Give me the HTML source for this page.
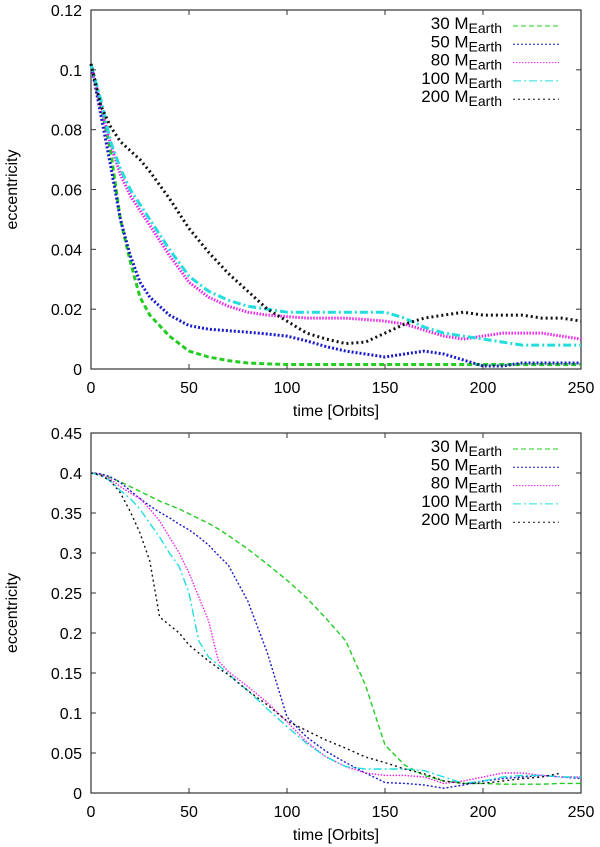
<!DOCTYPE html>
<html><head><meta charset="utf-8"><style>
body{margin:0;background:#fff;}
svg{display:block;font-family:"Liberation Sans",sans-serif;}
</style></head><body>
<svg id="c" width="600" height="847"></svg>
<script>
const NS="http://www.w3.org/2000/svg";
const svg=document.getElementById('c');
const seriesNames=["30","50","80","100","200"];
const colors=["#22cc22","#1a1acc","#ee22ee","#22dddd","#111111"];
const dashes=["5,3","2,2","1.5,1.5","8,3,2,3","2,3"];
const xTicks=[0,50,100,150,200,250];
// top chart data
const tTop=[0,5,10,15,20,25,30,40,50,60,70,80,90,100,110,120,130,140,150,160,170,180,190,200,210,220,230,240,250];
const top30=[.102,.088,.073,.050,.036,.024,.018,.011,.006,.004,.0028,.002,.0017,.0015,.0015,.0015,.0015,.0015,.0015,.0015,.0015,.0015,.0015,.0015,.0015,.0015,.0015,.0015,.0015];
const top50=[.102,.085,.068,.050,.038,.029,.024,.018,.0145,.0133,.0128,.0123,.0117,.011,.0094,.0075,.006,.005,.004,.005,.006,.005,.003,.001,.001,.002,.002,.002,.002];
const top80=[.102,.088,.075,.065,.058,.053,.048,.038,.029,.024,.021,.019,.018,.0175,.017,.017,.017,.0165,.016,.015,.013,.011,.010,.011,.012,.012,.012,.011,.010];
const top100=[.102,.090,.076,.067,.060,.055,.050,.040,.031,.026,.023,.021,.020,.019,.019,.019,.019,.019,.019,.017,.014,.012,.011,.010,.009,.008,.008,.008,.008];
const top200=[.102,.088,.081,.076,.073,.070,.066,.057,.047,.039,.032,.026,.020,.016,.012,.010,.0085,.009,.012,.015,.017,.018,.019,.018,.018,.018,.017,.017,.016];
const yTicksTop=[0,0.02,0.04,0.06,0.08,0.1,0.12];
const yLabelsTop=["0","0.02","0.04","0.06","0.08","0.1","0.12"];
// bottom chart data
const tBot=[0,5,10,15,20,25,30,35,40,45,50,55,60,65,70,80,90,100,110,120,130,140,150,160,170,180,190,200,210,220,230,240,250];
const bot30=[.40,.398,.394,.389,.383,.377,.371,.365,.360,.355,.349,.343,.337,.330,.322,.305,.286,.266,.244,.218,.190,.135,.06,.035,.022,.015,.012,.012,.011,.011,.011,.012,.012];
const bot50=[.40,.399,.395,.388,.378,.368,.359,.351,.344,.336,.329,.320,.310,.297,.285,.24,.175,.095,.07,.052,.038,.025,.013,.012,.010,.006,.01,.015,.018,.02,.022,.02,.018];
const bot80=[.40,.398,.392,.383,.375,.368,.355,.340,.320,.300,.275,.245,.215,.165,.152,.133,.113,.089,.064,.045,.033,.025,.022,.022,.02,.012,.015,.02,.025,.025,.022,.02,.02];
const bot100=[.40,.397,.39,.378,.368,.355,.337,.32,.30,.283,.25,.19,.17,.16,.149,.128,.105,.083,.062,.045,.033,.03,.03,.03,.028,.02,.012,.015,.02,.022,.022,.02,.02];
const bot200=[.40,.397,.39,.375,.352,.325,.29,.22,.21,.20,.185,.175,.165,.156,.148,.128,.11,.09,.078,.066,.056,.045,.038,.03,.024,.015,.012,.012,.015,.018,.02,.025,null];
const yTicksBot=[0,0.05,0.1,0.15,0.2,0.25,0.3,0.35,0.4,0.45];
const yLabelsBot=["0","0.05","0.1","0.15","0.2","0.25","0.3","0.35","0.4","0.45"];

function el(tag,attrs,parent){const e=document.createElementNS(NS,tag);for(const k in attrs)e.setAttribute(k,attrs[k]);(parent||svg).appendChild(e);return e;}

function chart(id,y0,y1,yMax,yTicks,yLabels,t,series,sw){
  const g=el('g',{});
  
  
  const x0=91,x1=581;
  const X=v=>x0+v/250*(x1-x0);
  const Y=v=>y1-v/yMax*(y1-y0);
  const fr=el('rect',{x:x0,y:y0,width:x1-x0,height:y1-y0,fill:'none',stroke:'#333','stroke-width':1.2},g);
  
  xTicks.forEach(v=>{
    el('line',{x1:X(v),x2:X(v),y1:y1,y2:y1-5,stroke:'#333'},g);
    el('line',{x1:X(v),x2:X(v),y1:y0,y2:y0+5,stroke:'#333'},g);
    const tx=el('text',{x:X(v),y:y1+24,'font-size':16,'text-anchor':'middle'},g);tx.textContent=v;
    
  });
  yTicks.forEach((v,i)=>{
    el('line',{x1:x0,x2:x0+5,y1:Y(v),y2:Y(v),stroke:'#333'},g);
    el('line',{x1:x1,x2:x1-5,y1:Y(v),y2:Y(v),stroke:'#333'},g);
    const tx=el('text',{x:x0-9,y:Y(v)+6,'font-size':16,'text-anchor':'end'},g);tx.textContent=yLabels[i];
    
  });
  const xt=el('text',{x:(x0+x1)/2,y:y1+47,'font-size':16,'text-anchor':'middle'},g);xt.textContent='time [Orbits]';
  
  const yc=(y0+y1)/2;
  const yt=el('text',{x:17,y:yc,'font-size':16,'text-anchor':'middle',transform:`rotate(-90 17 ${yc})`},g);yt.textContent='eccentricity';
  
  series.forEach((s,i)=>{
    let d='';let first=true;
    s.forEach((v,j)=>{if(v===null)return;d+=(first?'M':'L')+X(t[j]).toFixed(1)+','+Y(v).toFixed(1);first=false;});
    const p=el('path',{d:d,fill:'none',stroke:colors[i],'stroke-width':sw,'stroke-dasharray':dashes[i],'stroke-linejoin':'round'},g);
    
    
    const ly=y0+19+i*18.3;
    const lt=el('text',{x:502,y:ly,'font-size':17,'text-anchor':'end'},g);
    lt.textContent=seriesNames[i]+' M';
    const sub=el('tspan',{'font-size':14,dy:4},lt);sub.textContent='Earth';
    
    const ll=el('line',{x1:513,x2:559,y1:ly-3,y2:ly-3,stroke:colors[i],'stroke-width':1,'stroke-dasharray':dashes[i]},g);
    
  });
}
chart('top-chart',10,369,0.12,yTicksTop,yLabelsTop,tTop,[top30,top50,top80,top100,top200],3);
chart('bottom-chart',433,793,0.45,yTicksBot,yLabelsBot,tBot,[bot30,bot50,bot80,bot100,bot200],1.4);
</script>
</body></html>
